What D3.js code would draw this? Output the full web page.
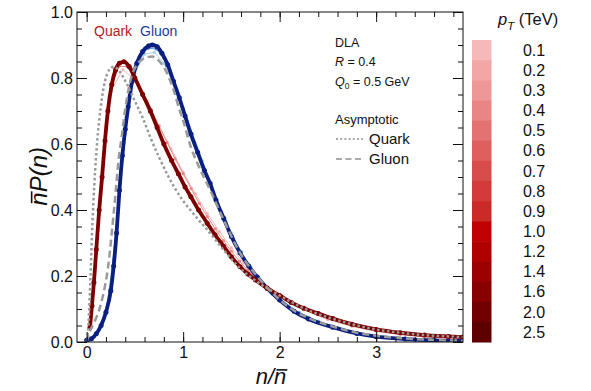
<!DOCTYPE html>
<html>
<head>
<meta charset="utf-8">
<script src="https://cdn.jsdelivr.net/npm/d3@7"></script>
<style>
  body { margin: 0; background: #fff; }
  svg text { font-family: "Liberation Sans", Arial, sans-serif; fill: #111; }
</style>
</head>
<body>
<script>
// axis ticks
const xTicks = [0, 1, 2, 3];
const yTicks = [0, 0.2, 0.4, 0.6, 0.8, 1.0];

// colour bar (pT in TeV)
const ptLabels = ["0.1", "0.2", "0.3", "0.4", "0.5", "0.6", "0.7", "0.8", "0.9", "1.0", "1.2", "1.4", "1.6", "2.0", "2.5"];
const ptColors = ["#f6b9b9", "#f2a6a6", "#ee9797", "#e98585", "#e47272", "#df5f5f", "#d94c4c", "#d33a3a", "#cc2929", "#c00000", "#b00000", "#9d0000", "#880000", "#720000", "#5e0000"];

// quark, pT = 0.1 / 0.4 / 2.5 TeV   [n/nbar, nbar P(n)]
const quark01 = [[0.125, 0.40], [0.25, 0.76], [0.375, 0.825], [0.5, 0.795], [0.625, 0.73], [0.75, 0.655], [0.875, 0.585], [1.0, 0.515], [1.125, 0.45], [1.25, 0.39], [1.375, 0.335], [1.5, 0.285], [1.625, 0.24], [1.75, 0.2], [1.875, 0.168], [2.0, 0.14], [2.25, 0.098], [2.5, 0.068], [2.75, 0.047], [3.0, 0.032], [3.25, 0.022], [3.5, 0.015], [3.75, 0.01]];
const quark04 = [[0.083, 0.22], [0.167, 0.53], [0.25, 0.77], [0.333, 0.835], [0.417, 0.835], [0.5, 0.8], [0.583, 0.755], [0.667, 0.705], [0.75, 0.655], [0.833, 0.605], [0.917, 0.555], [1.0, 0.51], [1.083, 0.465], [1.167, 0.42], [1.25, 0.38], [1.333, 0.343], [1.417, 0.307], [1.5, 0.275], [1.583, 0.245], [1.667, 0.218], [1.75, 0.196], [1.833, 0.175], [1.917, 0.157], [2.0, 0.141], [2.25, 0.1], [2.5, 0.071], [2.75, 0.05], [3.0, 0.035], [3.25, 0.025], [3.5, 0.018], [3.75, 0.013]];
const quark25 = [[0.035, 0.045], [0.055, 0.11], [0.075, 0.18], [0.1, 0.28], [0.13, 0.4], [0.16, 0.5], [0.19, 0.61], [0.22, 0.7], [0.26, 0.78], [0.3, 0.825], [0.34, 0.845], [0.386, 0.849], [0.44, 0.835], [0.5, 0.8], [0.58, 0.75], [0.66, 0.7], [0.73, 0.65], [0.8, 0.6], [0.88, 0.55], [0.95, 0.51], [1.02, 0.47], [1.08, 0.44], [1.16, 0.4], [1.25, 0.36], [1.33, 0.325], [1.42, 0.29], [1.5, 0.258], [1.59, 0.228], [1.67, 0.206], [1.75, 0.188], [1.87, 0.163], [2.0, 0.141], [2.12, 0.12], [2.25, 0.102], [2.4, 0.086], [2.55, 0.071], [2.75, 0.054], [3.0, 0.038], [3.25, 0.028], [3.5, 0.021], [3.75, 0.017], [3.9, 0.015]];

// gluon, pT = 0.1 / 0.4 / 2.5 TeV
const gluonColors = ["#a7cfee", "#5d98d4", "#0a1f80"];
const gluon01 = [[0.1, 0.028], [0.2, 0.095], [0.3, 0.3], [0.4, 0.63], [0.5, 0.815], [0.6, 0.872], [0.7, 0.878], [0.8, 0.845], [0.9, 0.785], [1.0, 0.71], [1.1, 0.63], [1.2, 0.55], [1.3, 0.47], [1.4, 0.395], [1.5, 0.33], [1.6, 0.275], [1.7, 0.228], [1.8, 0.19], [1.9, 0.157], [2.0, 0.13], [2.2, 0.09], [2.4, 0.062], [2.6, 0.042], [2.8, 0.028], [3.0, 0.018], [3.3, 0.01], [3.6, 0.005], [3.9, 0.003]];
const gluon04 = [[0.08, 0.015], [0.16, 0.058], [0.24, 0.15], [0.32, 0.39], [0.4, 0.645], [0.48, 0.8], [0.56, 0.87], [0.64, 0.89], [0.72, 0.888], [0.8, 0.86], [0.88, 0.805], [0.96, 0.74], [1.04, 0.67], [1.12, 0.6], [1.2, 0.535], [1.28, 0.475], [1.36, 0.42], [1.44, 0.365], [1.52, 0.315], [1.6, 0.272], [1.68, 0.232], [1.76, 0.198], [1.84, 0.17], [1.92, 0.146], [2.0, 0.127], [2.2, 0.09], [2.4, 0.063], [2.6, 0.043], [2.8, 0.028], [3.0, 0.018], [3.3, 0.01], [3.6, 0.005], [3.9, 0.003]];
const gluon25 = [[0.0, 0.005], [0.05, 0.01], [0.1, 0.025], [0.15, 0.05], [0.2, 0.09], [0.25, 0.155], [0.28, 0.23], [0.31, 0.33], [0.34, 0.46], [0.37, 0.565], [0.4, 0.645], [0.43, 0.713], [0.47, 0.79], [0.52, 0.845], [0.58, 0.88], [0.64, 0.897], [0.68, 0.9], [0.73, 0.895], [0.78, 0.875], [0.84, 0.84], [0.9, 0.79], [0.96, 0.74], [1.02, 0.685], [1.08, 0.63], [1.15, 0.575], [1.22, 0.52], [1.28, 0.48], [1.34, 0.43], [1.42, 0.375], [1.5, 0.32], [1.59, 0.27], [1.68, 0.23], [1.77, 0.196], [1.87, 0.163], [2.0, 0.127], [2.15, 0.093], [2.3, 0.07], [2.55, 0.045], [2.8, 0.026], [3.0, 0.016], [3.3, 0.009], [3.6, 0.005], [3.9, 0.003]];

// asymptotic shapes
const asymQuark = [[0.01, 0.02], [0.02, 0.06], [0.04, 0.2], [0.06, 0.36], [0.08, 0.48], [0.11, 0.61], [0.145, 0.71], [0.19, 0.79], [0.235, 0.825], [0.283, 0.834], [0.34, 0.82], [0.42, 0.78], [0.5, 0.73], [0.58, 0.68], [0.66, 0.62], [0.75, 0.56], [0.85, 0.5], [0.97, 0.44], [1.075, 0.4], [1.16, 0.37], [1.25, 0.34], [1.42, 0.279], [1.59, 0.223], [1.75, 0.186], [1.87, 0.163], [2.0, 0.141], [2.25, 0.102], [2.5, 0.075], [2.75, 0.054], [3.0, 0.038], [3.25, 0.028], [3.5, 0.021], [3.75, 0.017], [3.9, 0.015]];
const asymGluon = [[0.0, 0.0], [0.02, 0.022], [0.08, 0.06], [0.14, 0.107], [0.19, 0.17], [0.227, 0.238], [0.26, 0.33], [0.296, 0.44], [0.33, 0.55], [0.362, 0.62], [0.403, 0.713], [0.455, 0.794], [0.52, 0.84], [0.6, 0.86], [0.679, 0.865], [0.75, 0.852], [0.817, 0.824], [0.9, 0.764], [0.955, 0.71], [1.006, 0.665], [1.075, 0.595], [1.15, 0.54], [1.28, 0.46], [1.42, 0.37], [1.59, 0.27], [1.77, 0.198], [1.87, 0.165], [2.0, 0.128], [2.15, 0.095], [2.3, 0.072], [2.55, 0.047], [2.8, 0.028], [3.0, 0.019], [3.3, 0.011], [3.6, 0.006], [3.9, 0.004]];

const width = 591, height = 391;
const plot = { left: 77, right: 463, top: 12, bottom: 342 };

const svg = d3.select("body").append("svg")
  .attr("width", width)
  .attr("height", height);

const x = d3.scaleLinear().domain([-0.1, 3.9]).range([plot.left, plot.right]);
const y = d3.scaleLinear().domain([0, 1]).range([plot.bottom, plot.top]);

svg.append("clipPath").attr("id", "clip")
  .append("rect")
  .attr("x", plot.left).attr("y", plot.top)
  .attr("width", plot.right - plot.left).attr("height", plot.bottom - plot.top);

// curves
const smooth = d3.line().x((d) => x(d[0])).y((d) => y(d[1])).curve(d3.curveMonotoneX);
const straight = d3.line().x((d) => x(d[0])).y((d) => y(d[1]));

const curves = svg.append("g").attr("clip-path", "url(#clip)");

const drawSeries = (data, color, dark) => {
  curves.append("path")
    .datum(data)
    .attr("fill", "none")
    .attr("stroke", color)
    .attr("stroke-width", dark ? 3.8 : 1)
    .attr("stroke-linejoin", "round")
    .attr("d", dark ? smooth : straight);
  curves.append("g")
    .selectAll("circle")
    .data(data)
    .join("circle")
    .attr("cx", (d) => x(d[0]))
    .attr("cy", (d) => y(d[1]))
    .attr("r", dark ? 2.5 : 1.6)
    .attr("fill", color);
};

drawSeries(gluon01, gluonColors[0], false);
drawSeries(gluon04, gluonColors[1], false);
drawSeries(quark01, ptColors[0], false);
drawSeries(quark04, ptColors[3], false);
drawSeries(gluon25, gluonColors[2], true);
drawSeries(quark25, "#7d0000", true);

curves.append("path")
  .datum(asymQuark)
  .attr("fill", "none")
  .attr("stroke", "#9a9a9a")
  .attr("stroke-width", 2.5)
  .attr("stroke-dasharray", "2.5,2.5")
  .attr("d", smooth);

curves.append("path")
  .datum(asymGluon)
  .attr("fill", "none")
  .attr("stroke", "#9a9a9a")
  .attr("stroke-width", 2.5)
  .attr("stroke-dasharray", "7,4")
  .attr("d", smooth);

// axes, ticks point inwards on all four sides
const minorX = d3.range(0, 3.9, 0.2);
const minorY = d3.range(0, 1.0001, 0.05);

const axisGroup = (axis, tx, ty) => {
  const g = svg.append("g")
    .attr("transform", `translate(${tx},${ty})`)
    .call(axis);
  g.select(".domain").remove();
  g.selectAll("line").attr("stroke", "#111");
  return g;
};

axisGroup(d3.axisBottom(x).tickValues(xTicks).tickSize(-10).tickPadding(5).tickFormat(d3.format("d")), 0, plot.bottom)
  .selectAll("text").attr("font-size", 16).attr("fill", "#111");
axisGroup(d3.axisBottom(x).tickValues(minorX).tickSize(-5).tickFormat(""), 0, plot.bottom);
axisGroup(d3.axisTop(x).tickValues(xTicks).tickSize(-10).tickFormat(""), 0, plot.top);
axisGroup(d3.axisTop(x).tickValues(minorX).tickSize(-5).tickFormat(""), 0, plot.top);

axisGroup(d3.axisLeft(y).tickValues(yTicks).tickSize(-10).tickPadding(4).tickFormat(d3.format(".1f")), plot.left, 0)
  .selectAll("text").attr("font-size", 16).attr("fill", "#111");
axisGroup(d3.axisLeft(y).tickValues(minorY).tickSize(-5).tickFormat(""), plot.left, 0);
axisGroup(d3.axisRight(y).tickValues(yTicks).tickSize(-10).tickFormat(""), plot.right, 0);
axisGroup(d3.axisRight(y).tickValues(minorY).tickSize(-5).tickFormat(""), plot.right, 0);

svg.append("rect")
  .attr("x", plot.left).attr("y", plot.top)
  .attr("width", plot.right - plot.left).attr("height", plot.bottom - plot.top)
  .attr("fill", "none").attr("stroke", "#111").attr("stroke-width", 1);

// axis titles, the bar over n is drawn by hand just above x-height
const overline = (parent, textEl, charIndex, fontSize) => {
  const ext = textEl.node().getExtentOfChar(charIndex);
  parent.append("line")
    .attr("x1", ext.x + 2.5).attr("x2", ext.x + ext.width + 1)
    .attr("y1", -fontSize * 0.64).attr("y2", -fontSize * 0.64)
    .attr("stroke", "#111").attr("stroke-width", 1.6);
};

const yTitleG = svg.append("g").attr("transform", "translate(47,147) rotate(-90)");
const yTitle = yTitleG.append("text")
  .attr("text-anchor", "end")
  .attr("font-size", 24)
  .attr("font-style", "italic")
  .text("nP(n)");
overline(yTitleG, yTitle, 0, 24);

const xTitleG = svg.append("g").attr("transform", "translate(271,384)");
const xTitle = xTitleG.append("text")
  .attr("text-anchor", "middle")
  .attr("font-size", 22)
  .attr("font-style", "italic")
  .text("n/n");
overline(xTitleG, xTitle, 2, 22);

// flavour labels
svg.append("text").attr("x", 94).attr("y", 36).attr("font-size", 14)
  .style("fill", "#b51a1a").text("Quark");
svg.append("text").attr("x", 140).attr("y", 36).attr("font-size", 14)
  .style("fill", "#1c3c9c").text("Gluon");

// info text
const info = svg.append("g").attr("transform", "translate(335,0)");
info.append("text").attr("y", 47).attr("font-size", 12.5).text("DLA");
const rText = info.append("text").attr("y", 66).attr("font-size", 12.5);
rText.append("tspan").attr("font-style", "italic").text("R");
rText.append("tspan").text(" = 0.4");
const qText = info.append("text").attr("y", 86).attr("font-size", 12.5);
qText.append("tspan").attr("font-style", "italic").text("Q");
qText.append("tspan").attr("font-size", 8.5).attr("dy", 3).text("0");
qText.append("tspan").attr("dy", -3).text(" = 0.5 GeV");

info.append("text").attr("y", 124).attr("font-size", 13).text("Asymptotic");
info.append("line").attr("x1", 1).attr("x2", 28).attr("y1", 139).attr("y2", 139)
  .attr("stroke", "#aaa").attr("stroke-width", 2).attr("stroke-dasharray", "2,2.2");
info.append("text").attr("x", 34).attr("y", 144).attr("font-size", 15).text("Quark");
info.append("line").attr("x1", 1).attr("x2", 28).attr("y1", 159).attr("y2", 159)
  .attr("stroke", "#aaa").attr("stroke-width", 2).attr("stroke-dasharray", "6,3.5");
info.append("text").attr("x", 34).attr("y", 164).attr("font-size", 15).text("Gluon");

// colour bar
const band = d3.scaleBand().domain(ptLabels).range([40, 342]);

const bar = svg.append("g");
bar.selectAll("rect")
  .data(ptLabels)
  .join("rect")
  .attr("x", 472)
  .attr("y", (d) => band(d))
  .attr("width", 19.5)
  .attr("height", band.bandwidth() + 0.5)
  .attr("fill", (d, i) => ptColors[i]);

bar.selectAll("text")
  .data(ptLabels)
  .join("text")
  .attr("x", 534)
  .attr("y", (d) => band(d) + band.bandwidth() / 2)
  .attr("dy", "0.36em")
  .attr("text-anchor", "middle")
  .attr("font-size", 16)
  .text((d) => d);

const ptTitle = svg.append("text").attr("x", 498).attr("y", 25).attr("font-size", 16.5);
ptTitle.append("tspan").attr("font-style", "italic").text("p");
ptTitle.append("tspan").attr("font-style", "italic").attr("font-size", 11.5).attr("dy", 5).text("T");
ptTitle.append("tspan").attr("dy", -5).text(" (TeV)");
</script>
</body>
</html>
